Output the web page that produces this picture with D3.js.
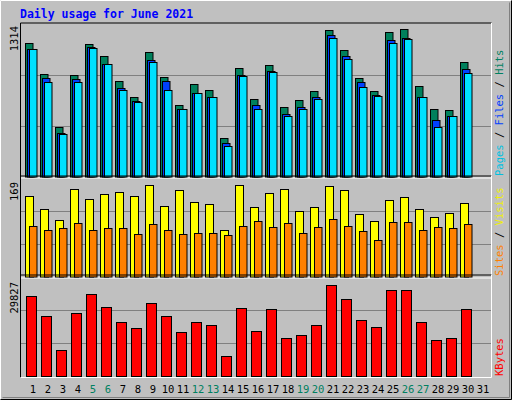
<!DOCTYPE html><html><head><script src="https://cdn.jsdelivr.net/npm/d3@7"></script>
<style>body{margin:0}</style></head><body><svg id="c" width="512" height="400"></svg><script>
const days=d3.range(1,32);
const weekend=[5,6,12,13,19,20,26,27];
const hits=[1151,884,426,875,1143,1039,823,685,1073,858,616,797,745,331,935,668,961,599,659,737,1263,1091,849,737,1246,1272,780,581,573,987,0];
const files=[1099,849,374,840,1117,970,763,650,1004,823,581,720,685,288,875,616,909,538,599,685,1220,1039,814,702,1177,1194,685,486,521,927,0];
const pages=[1099,814,366,814,1108,970,745,642,987,745,581,720,685,262,866,581,901,521,581,668,1194,1013,771,694,1151,1186,685,426,521,892,0];
const visits=[138,116,97,150,133,140,145,137,157,121,147,128,123,80,157,118,142,150,111,119,155,148,106,94,131,135,116,101,108,125,0];
const sites=[87,80,82,91,80,82,82,72,89,79,73,75,75,70,87,94,84,91,75,84,99,87,77,63,93,93,80,84,82,89,0];
const kbytes=[24100,18075,7830,18980,24700,20785,16270,14460,21990,18075,13255,16270,15365,6025,20485,13555,20185,11450,12350,15365,27415,23195,16870,14760,25905,25905,16270,10845,11450,20185,0];
const maxLabels=["1314","169","29827"];
const svg=d3.select("#c");
const F="DejaVu Sans Mono, monospace";
svg.append("rect").attr("width",512).attr("height",400).attr("fill","#c0c0c0");
svg.append("path").attr("d","M0.5,399.5V0.5H511.5").attr("stroke","#fff").attr("fill","none");
svg.append("path").attr("d","M0.5,399.5H511.5V0.5").attr("stroke","#000").attr("fill","none");
svg.append("path").attr("d","M2.5,397.5H509.5V2.5").attr("stroke","#808080").attr("fill","none");
svg.append("text").attr("x",20).attr("y",18).attr("font-family",F).attr("font-weight","bold").attr("font-size",11.5).attr("fill","#0000ff").text("Daily usage for June 2021");
const x=d3.scaleBand().domain(days).range([25,490]).paddingInner(0);
function panel(y0,y1,maxv){
  const g=svg.append("g");
  g.append("path").attr("d",`M20.5,${y1+1.5}V${y0-1.5}H491.5`).attr("stroke","#000").attr("fill","none");
  g.append("path").attr("d",`M20.5,${y1+1.5}H491.5V${y0-1.5}`).attr("stroke","#fff").attr("fill","none");
  const y=d3.scaleLinear().domain([0,maxv]).range([y1,y0]);
  [1,2].forEach(k=>g.append("line").attr("x1",21).attr("x2",491).attr("y1",Math.round(y(maxv*k/3))+0.5).attr("y2",Math.round(y(maxv*k/3))+0.5).attr("stroke","#808080"));
  return y;
}
function bars(y,data,off,w,col){
  svg.append("g").selectAll("rect").data(data.map((v,i)=>[days[i],v]).filter(d=>d[1]>0)).join("rect")
   .attr("x",d=>x(d[0])+off+0.5).attr("width",w).attr("y",d=>Math.round(y(d[1]))+0.5).attr("height",d=>y.range()[0]-Math.round(y(d[1])))
   .attr("fill",col).attr("stroke","#000");
}
const y1=panel(24.5,176.5,1314);
bars(y1,hits,0,7.5,"#00805c");bars(y1,files,2,7.5,"#0040ff");bars(y1,pages,4,7.5,"#00e0ff");
const y2=panel(177.5,276.5,169);
bars(y2,visits,0,8,"#ffff00");bars(y2,sites,4,7.5,"#ff8000");
const y3=panel(276.5,376,29827);
bars(y3,kbytes,1,10,"#ff0000");
const axis=svg.append("g");
days.forEach(d=>axis.append("text").attr("x",x(d)+8).attr("y",393).attr("text-anchor","middle").attr("font-family",F).attr("font-size",10.5).attr("fill",weekend.includes(d)?"#008060":"#000").text(d));
[[24,maxLabels[0]],[180,maxLabels[1]],[280,maxLabels[2]]].forEach(([yy,t])=>svg.append("text").attr("transform",`translate(18,${yy+2}) rotate(-90)`).attr("text-anchor","end").attr("font-family",F).attr("font-size",10.5).text(t));
function rlabel(y,parts){
  const t=svg.append("text").attr("transform",`translate(503,${y}) rotate(-90)`).attr("font-family",F).attr("font-size",10.5);
  parts.forEach(([s,c])=>t.append("tspan").attr("fill",c).text(s));
}
rlabel(176,[["Pages","#00c0e0"],[" / ","#000"],["Files","#0040ff"],[" / ","#000"],["Hits","#008060"]]);
rlabel(276,[["Sites","#ff8000"],[" / ","#000"],["Visits","#f0f000"]]);
rlabel(376,[["KBytes","#ff0000"]]);
</script></body></html>
